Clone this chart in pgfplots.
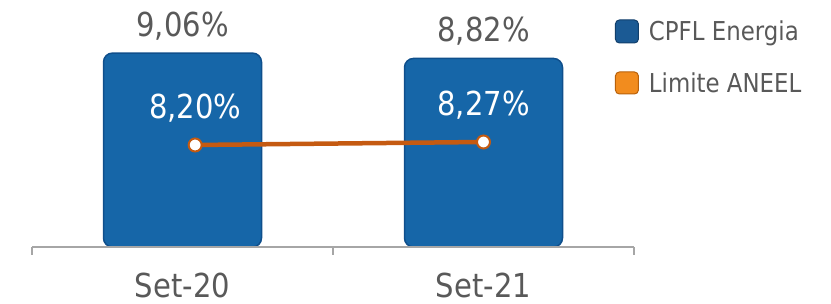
\documentclass[border=0pt]{standalone}
\usepackage{fontspec}
\setmainfont{DejaVu Sans}[FakeStretch=0.88]
\usepackage{pgfplots}
\pgfplotsset{compat=1.18}
\definecolor{barblue}{HTML}{1666A8}
\definecolor{baredge}{HTML}{0F4F8C}
\definecolor{legblue}{HTML}{1B5A94}
\definecolor{legblueedge}{HTML}{123F6B}
\definecolor{legor}{HTML}{F28C1E}
\definecolor{legoredge}{HTML}{B8610B}
\definecolor{lineor}{HTML}{C55A11}
\definecolor{labgray}{HTML}{595959}
\definecolor{axgray}{HTML}{A6A6A6}
\begin{document}
\begin{tikzpicture}
\begin{axis}[
  at={(32pt,57pt)}, anchor=south west,
  scale only axis, width=602pt, height=247pt,
  xmin=-0.5, xmax=1.5, ymin=0.4, ymax=11.43,
  axis y line=none, axis x line*=bottom,
  x axis line style={draw=axgray, line width=1.5pt, -},
  axis on top,
  xtick={0,1}, xticklabels={Set-20,Set-21},
  major x tick style={draw=none},
  minor xtick={-0.5,0.5,1.5},
  minor x tick style={draw=axgray, line width=1.5pt},
  minor tick length=8pt, tick align=outside,
  xticklabel style={font=\fontsize{33}{36}\selectfont, text=labgray, anchor=base, yshift=-46pt},
  /pgf/number format/assume math mode=true,
  legend style={at={(0.963,0.93)}, anchor=north west, draw=none, fill=none,
    font=\fontsize{26}{30}\selectfont, text=labgray, row sep=28pt, column sep=10pt,
    nodes={inner sep=0pt}},
  legend cell align=left,
]
\addplot[ybar, bar width=158pt, fill=barblue, draw=baredge, line width=1.5pt,
  rounded corners=9pt, forget plot,
  nodes near coords={\pgfmathprintnumber[fixed,fixed zerofill,precision=2,use comma]{\pgfplotspointmeta}\%},
  nodes near coords style={text=labgray, anchor=base, yshift=17pt, font=\fontsize{33}{36}\selectfont}]
  coordinates {(0,9.06) (1,8.82)};
\addlegendimage{legend image code/.code={\draw[fill=legblue, draw=legblueedge, line width=1pt, rounded corners=4pt] (0pt,-11.5pt) rectangle (23pt,11.5pt);}}
\addlegendimage{legend image code/.code={\draw[fill=legor, draw=legoredge, line width=1pt, rounded corners=4pt] (0pt,-11pt) rectangle (23pt,11pt);}}
\legend{CPFL Energia, Limite ANEEL}
\end{axis}
\begin{axis}[
  at={(32pt,57pt)}, anchor=south west,
  scale only axis, width=602pt, height=247pt,
  xmin=-0.5, xmax=1.5, ymin=5.82, ymax=11.583,
  hide axis, clip=false,
  /pgf/number format/assume math mode=true,
]
\addplot[lineor, line width=4.5pt, mark=*, mark size=6.5pt,
  mark options={fill=white, draw=lineor, line width=2pt},
  nodes near coords={\pgfmathprintnumber[fixed,fixed zerofill,precision=2,use comma]{\pgfplotspointmeta}\%},
  nodes near coords style={text=white, anchor=base, yshift=26pt, font=\fontsize{33}{36}\selectfont}]
  coordinates {(0.042,8.20) (1,8.27)};
\end{axis}
\pgfresetboundingbox
\path[use as bounding box] (0,0) rectangle (831pt,304pt);
\end{tikzpicture}
\end{document}
